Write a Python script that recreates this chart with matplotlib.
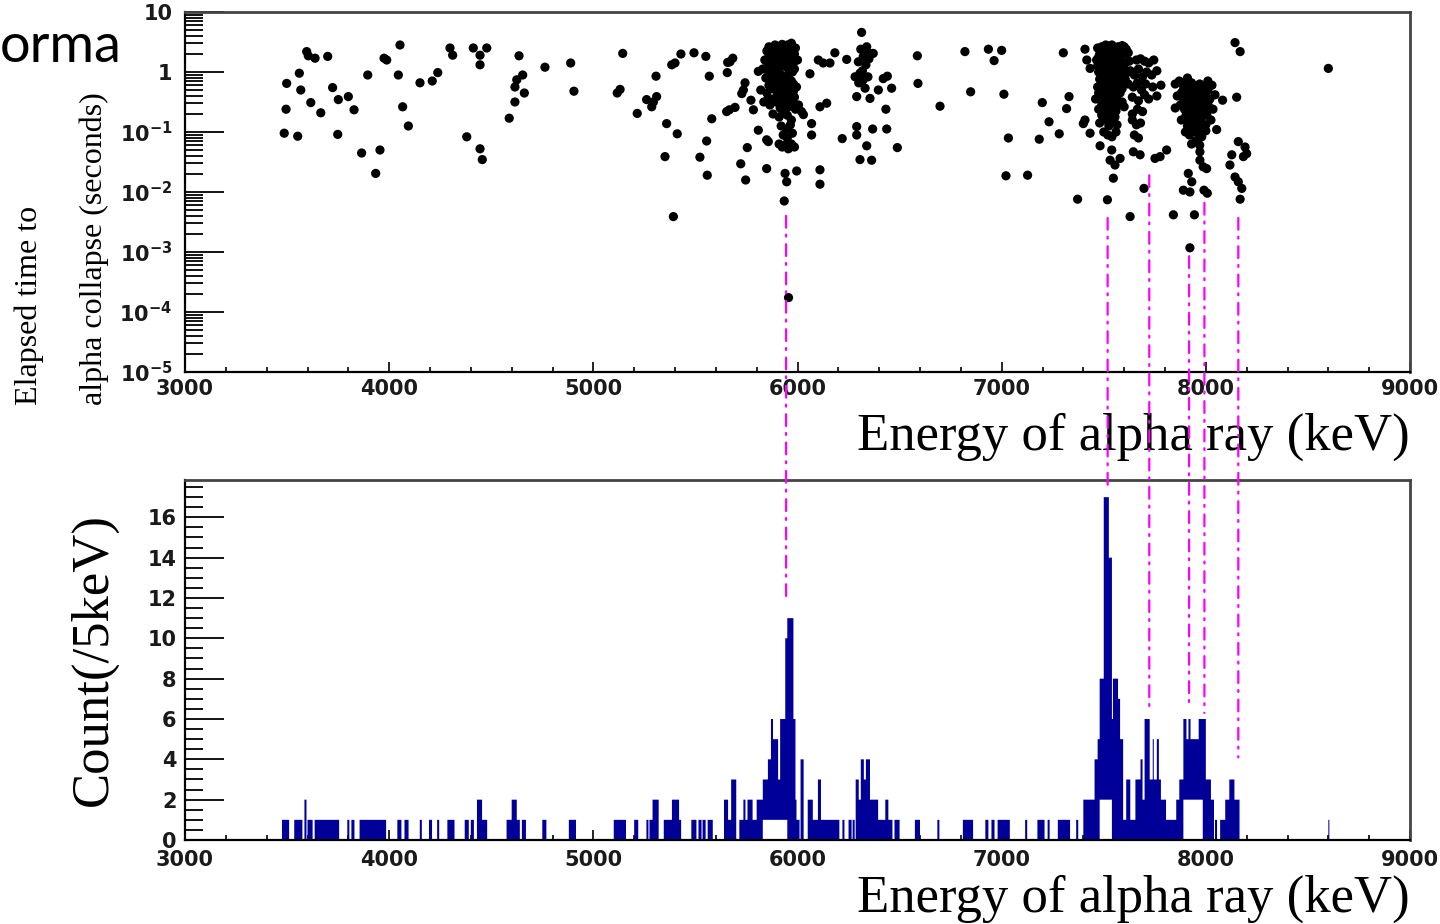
import numpy as np
import matplotlib
matplotlib.use('Agg')
import matplotlib.pyplot as plt
from matplotlib.patches import ConnectionPatch
from matplotlib.ticker import MultipleLocator, FixedLocator, LogLocator, NullFormatter

plt.rcParams['mathtext.fontset'] = 'dejavusans'
plt.rcParams['lines.scale_dashes'] = False

# ---------------- scatter data (energy keV, log10 of elapsed time s) ----------------
sparse_left_e = [3596, 3604, 3637, 3699, 3560, 3498, 3567, 3723, 3751, 3800, 3616, 3665, 3495, 3828,
                 3486, 3552, 3748, 3865, 3955, 3934, 3895, 4045, 3975, 3988, 4053, 4066, 4094, 4151,
                 4211, 4238, 4298, 4311, 4412, 4478, 4445, 4445, 4380, 4445, 4456, 4636, 4654, 4625,
                 4616, 4662, 4616, 4588, 4763, 4889, 4905, 5144, 5117, 5131, 5261, 5294, 5286, 5310,
                 5215, 5307]
sparse_left_t = [0.34, 0.27, 0.23, 0.26, -0.02, -0.19, -0.30, -0.26, -0.46, -0.41, -0.51, -0.68, -0.62, -0.63,
                 -1.02, -1.07, -1.04, -1.35, -1.30, -1.69, -0.05, -0.05, 0.23, 0.20, 0.45, -0.58, -0.90, -0.18,
                 -0.15, -0.01, 0.40, 0.28, 0.40, 0.40, 0.28, 0.12, -1.08, -1.28, -1.46, 0.27, -0.05, -0.13,
                 -0.25, -0.35, -0.50, -0.77, 0.08, 0.15, -0.32, 0.31, -0.35, -0.29, -0.46, -0.50, -0.58, -0.41,
                 -0.69, -0.07]

sparse_mid_e = [5359, 5411, 5351, 5392, 5384, 5400, 5429, 5493, 5551, 5568, 5580, 5555, 5522, 5558,
                5658, 5683, 5669, 5656, 5743, 5735, 5727, 5666, 5694, 5653, 5754, 5722, 5746, 5808,
                5849, 5857, 5849, 5772, 5784, 5808, 5939, 5947, 5935, 5996, 6110, 6110, 6069, 6069,
                6061, 6102, 6126, 6159, 6183, 6241, 6110, 6143, 6219, 6020, 6029, 5956, 6306]
sparse_mid_t = [-0.86, -1.03, -1.41, -2.41, 0.12, 0.15, 0.30, 0.32, 0.26, -0.07, -0.78, -1.15, -1.42, -1.72,
                0.16, 0.23, 0.17, -0.01, -0.18, -0.30, -0.36, -0.63, -0.59, -0.66, -1.26, -1.53, -1.80, -0.97,
                -1.13, -1.16, -1.61, -0.47, -0.63, 0.01, -1.69, -1.83, -2.15, -1.65, -1.63, -1.87, -0.86, -1.05,
                -0.03, 0.20, 0.15, 0.15, 0.32, 0.21, -0.58, -0.52, -1.11, -0.66, -0.71, -3.76, -1.46]

peak5950_e = [5850, 5870, 5890, 5910, 5930, 5950, 5970, 5990,
              5840, 5860, 5880, 5900, 5920, 5940, 5960, 5980, 6000,
              5830, 5855, 5875, 5895, 5915, 5935, 5955, 5975,
              5845, 5870, 5890, 5910, 5930, 5950, 5970, 5995,
              5820, 5850, 5880, 5900, 5920, 5940, 5960, 5985,
              5835, 5865, 5895, 5915, 5935, 5955, 5975, 6005,
              5880, 5910, 5930, 5950, 5970,
              5920, 5945, 5965,
              5930, 5950, 5975,
              5910, 5925, 5940, 5955, 5970, 5985,
              5860, 5880, 5900, 5925, 5945, 5965, 5985,
              5865, 5885, 5905, 5925, 5945, 5965, 5985,
              5860, 5880, 5900, 5920, 5940, 5960, 5980,
              5860, 5885, 5905, 5925, 5945, 5965, 5980,
              5855, 5880, 5905, 5925, 5945, 5965, 5990]
peak5950_t = [0.35, 0.40, 0.45, 0.42, 0.38, 0.45, 0.48, 0.40,
              0.20, 0.25, 0.30, 0.28, 0.22, 0.30, 0.25, 0.15, 0.20,
              0.05, 0.10, 0.05, 0.12, 0.08, 0.10, 0.05, 0.00,
              -0.10, -0.15, -0.05, -0.12, -0.20, -0.08, -0.15, -0.25,
              -0.30, -0.35, -0.28, -0.40, -0.32, -0.38, -0.30, -0.42,
              -0.50, -0.55, -0.50, -0.60, -0.52, -0.58, -0.48, -0.55,
              -0.70, -0.75, -0.68, -0.72, -0.80,
              -0.90, -0.95, -0.88,
              -1.05, -1.10, -1.02,
              -1.20, -1.25, -1.22, -1.28, -1.20, -1.25,
              0.42, 0.38, 0.35, 0.46, 0.40, 0.36, 0.30,
              0.15, 0.18, 0.20, 0.15, 0.18, 0.12, 0.05,
              -0.02, -0.10, -0.02, -0.05, -0.12, -0.02, -0.20,
              -0.22, -0.18, -0.25, -0.10, -0.22, -0.40, -0.32,
              -0.45, -0.45, -0.35, -0.45, -0.48, -0.52, -0.62]

peak6330_e = [6314, 6339, 6355, 6322, 6371, 6298, 6306, 6322, 6282, 6331, 6420, 6440, 6396, 6461,
              6290, 6355, 6433, 6290, 6290, 6368, 6437, 6339, 6363, 6489,
              6330, 6350, 6310, 6335, 6318, 6345, 6300]
peak6330_t = [0.66, 0.42, 0.31, 0.26, 0.31, 0.17, -0.02, -0.13, -0.08, -0.27, -0.11, -0.07, -0.30, -0.27,
              -0.41, -0.44, -0.62, -0.91, -1.05, -0.95, -0.95, -1.23, -1.47, -1.26,
              0.30, 0.22, 0.38, 0.12, 0.02, -0.08, -0.18]

sparse_right_e = [6587, 6590, 6698, 6820, 6848, 6935, 6963, 7000, 7011, 7021, 7033, 7127, 7184, 7199,
                  7232, 7282, 7302, 7318, 7330, 7372, 7408, 7417, 7433, 7408, 7400, 7433, 7482, 7518,
                  7539, 7531, 7555, 7580, 7547, 7629, 7645, 7678, 7697, 7751, 7776, 7808, 7841, 7944,
                  7890, 7922, 7931, 7914, 7991, 8007, 7971, 7987, 8004, 7971, 8053, 8082, 8143, 8168,
                  8151, 8159, 8192, 8200, 8184, 8127, 8118, 8143, 8159, 8176, 8168, 8600, 7922]
sparse_right_t = [0.27, -0.19, -0.57, 0.34, -0.33, 0.38, 0.19, 0.36, -0.37, -1.73, -1.10, -1.72, -1.12, -0.51,
                  -0.83, -1.03, 0.32, -0.61, -0.41, -2.12, 0.38, 0.20, 0.06, -0.80, -0.86, -1.02, -1.23, -2.13,
                  -1.30, -1.47, -1.55, -1.44, -1.77, -2.41, -1.33, -1.38, -1.94, -1.44, -1.41, -1.30, -2.38, -2.38,
                  -1.97, -2.00, -1.83, -1.69, -1.97, -2.02, -1.47, -1.58, -1.61, -1.33, -0.96, -0.47, 0.49, 0.34,
                  -0.42, -1.16, -1.25, -1.36, -1.41, -1.38, -1.55, -1.75, -1.83, -1.94, -2.12, 0.06, -2.93]

peak7550_e = [7470, 7490, 7510, 7530, 7550, 7570, 7590, 7610, 7480, 7500, 7520, 7545, 7565, 7585, 7605,
              7465, 7485, 7505, 7525, 7545, 7565, 7585, 7600, 7625, 7660, 7680, 7700, 7720, 7745,
              7475, 7495, 7515, 7535, 7555, 7575, 7600, 7630, 7650, 7670, 7690, 7710, 7735, 7760,
              7470, 7490, 7510, 7530, 7550, 7570, 7590, 7620, 7645, 7665, 7685, 7705, 7740, 7780,
              7460, 7485, 7505, 7525, 7545, 7565, 7590, 7640, 7670, 7700, 7720, 7760,
              7475, 7500, 7520, 7540, 7560, 7600, 7640, 7665, 7690,
              7480, 7505, 7525, 7545, 7565, 7640, 7660, 7680,
              7500, 7520, 7540, 7560, 7650, 7670,
              7480, 7500, 7520, 7540, 7560, 7580, 7600, 7620,
              7475, 7495, 7515, 7535, 7555, 7575, 7595,
              7470, 7490, 7510, 7530, 7550, 7570, 7590, 7610,
              7480, 7500, 7520, 7540, 7560, 7580, 7605,
              7475, 7495, 7515, 7535, 7555, 7580,
              7490, 7510, 7530, 7550, 7570,
              7490, 7515, 7535, 7555]
peak7550_t = [0.40, 0.42, 0.45, 0.43, 0.40, 0.42, 0.44, 0.38, 0.30, 0.34, 0.30, 0.33, 0.28, 0.32, 0.30,
              0.20, 0.15, 0.22, 0.12, 0.18, 0.10, 0.20, 0.12, 0.18, 0.20, 0.22, 0.18, 0.15, 0.20,
              0.00, -0.05, 0.02, -0.08, -0.02, -0.10, -0.05, 0.02, -0.05, 0.05, -0.08, 0.00, -0.05, 0.02,
              -0.25, -0.20, -0.28, -0.18, -0.30, -0.22, -0.28, -0.20, -0.25, -0.18, -0.30, -0.20, -0.25, -0.22,
              -0.45, -0.40, -0.48, -0.38, -0.45, -0.40, -0.50, -0.42, -0.48, -0.38, -0.45, -0.40,
              -0.62, -0.58, -0.68, -0.60, -0.65, -0.58, -0.70, -0.62, -0.66,
              -0.85, -0.80, -0.90, -0.82, -0.88, -0.80, -0.88, -0.85,
              -1.00, -1.05, -1.08, -1.00, -1.05, -1.10,
              0.38, 0.40, 0.38, 0.45, 0.35, 0.38, 0.42, 0.32,
              0.25, 0.25, 0.26, 0.22, 0.25, 0.22, 0.15,
              0.10, 0.08, 0.12, 0.05, 0.08, 0.02, 0.05, -0.02,
              -0.12, -0.15, -0.10, -0.15, -0.12, -0.18, -0.12,
              -0.35, -0.32, -0.38, -0.30, -0.35, -0.35,
              -0.55, -0.52, -0.55, -0.52, -0.55,
              -0.72, -0.75, -0.72, -0.75]

peak7950_e = [7850, 7870, 7890, 7910, 7930, 7950, 7970, 7990, 8010, 8030,
              7860, 7880, 7900, 7920, 7940, 7960, 7980, 8000, 8020, 8045,
              7850, 7875, 7895, 7915, 7935, 7955, 7975, 7995, 8015, 8035,
              7880, 7900, 7920, 7940, 7960, 7980, 8000, 8025,
              7900, 7920, 7940, 7960, 7980, 8000,
              7930, 7950, 7970,
              7890, 7910, 7930, 7950, 7970, 7990, 8010,
              7890, 7910, 7930, 7950, 7970, 7990, 8010,
              7905, 7925, 7945, 7965, 7985, 8005,
              7910, 7930, 7950, 7970, 7990]
peak7950_t = [-0.20, -0.15, -0.22, -0.10, -0.18, -0.28, -0.20, -0.25, -0.15, -0.22,
              -0.40, -0.35, -0.45, -0.38, -0.42, -0.35, -0.48, -0.40, -0.45, -0.38,
              -0.60, -0.55, -0.62, -0.58, -0.65, -0.55, -0.60, -0.68, -0.58, -0.62,
              -0.80, -0.75, -0.85, -0.78, -0.82, -0.75, -0.88, -0.80,
              -1.00, -1.05, -0.95, -1.02, -1.08, -0.98,
              -1.20, -1.15, -1.22,
              -0.30, -0.28, -0.32, -0.45, -0.32, -0.35, -0.30,
              -0.50, -0.50, -0.52, -0.62, -0.48, -0.52, -0.50,
              -0.68, -0.70, -0.72, -0.70, -0.68, -0.72,
              -0.90, -0.92, -0.88, -0.92, -0.88]

# ---------------- histogram data (segments: low keV, high keV, count) ----------------
seg_lo = [3475, 3535, 3585, 3600, 3635, 3795, 3815, 3855, 4040, 4075, 4150, 4195, 4235, 4285, 4370, 4400,
          4430, 4455, 4575, 4600, 4625, 4650, 4750, 4880, 5100, 5200, 5260, 5275, 5290, 5345, 5385, 5420,
          5480, 5515, 5535, 5560, 5640, 5660, 5675, 5715, 5735, 5745, 5755, 5780, 5800, 5830, 5855, 5870,
          5880, 5905, 5915, 5940, 5950, 5980, 5990, 5995, 6015, 6050, 6075, 6100, 6115, 6140, 6220, 6250,
          6270, 6285, 6300, 6310, 6325, 6335, 6355, 6395, 6430, 6445, 6475, 6575, 6685, 6810, 6920, 6950,
          6980, 7115, 7175, 7225, 7275, 7365, 7400, 7455, 7470, 7480, 7500, 7525, 7540, 7545, 7570, 7580,
          7595, 7610, 7630, 7655, 7680, 7690, 7700, 7725, 7740, 7745, 7760, 7770, 7780, 7805, 7855, 7870,
          7890, 7905, 7915, 7925, 7965, 8000, 8025, 8045, 8070, 8095, 8115, 8140, 8600]
seg_hi = [3510, 3575, 3595, 3625, 3755, 3805, 3830, 3985, 4060, 4095, 4160, 4210, 4245, 4320, 4390, 4415,
          4455, 4480, 4600, 4625, 4640, 4670, 4770, 4915, 5160, 5220, 5270, 5290, 5320, 5385, 5420, 5430,
          5505, 5530, 5550, 5585, 5660, 5675, 5700, 5735, 5745, 5755, 5780, 5800, 5830, 5855, 5870, 5880,
          5905, 5915, 5940, 5950, 5980, 5990, 5995, 6010, 6030, 6075, 6100, 6115, 6140, 6205, 6230, 6265,
          6280, 6300, 6310, 6325, 6335, 6355, 6395, 6430, 6445, 6465, 6500, 6600, 6695, 6860, 6935, 6965,
          7040, 7125, 7210, 7235, 7335, 7375, 7455, 7470, 7480, 7500, 7525, 7540, 7545, 7570, 7580, 7595,
          7610, 7630, 7655, 7680, 7690, 7700, 7725, 7740, 7745, 7760, 7770, 7780, 7805, 7855, 7870, 7890,
          7905, 7915, 7925, 7965, 8000, 8025, 8040, 8055, 8095, 8115, 8140, 8165, 8605]
seg_count = [1, 1, 2, 1, 1, 1, 1, 1, 1, 1, 1, 1, 1, 1, 1, 1,
             2, 1, 1, 2, 1, 1, 1, 1, 1, 1, 1, 1, 2, 1, 2, 1,
             1, 1, 1, 1, 2, 1, 3, 1, 2, 1, 2, 1, 2, 3, 4, 6,
             5, 3, 6, 10, 11, 6, 2, 1, 4, 2, 1, 3, 1, 1, 1, 1,
             1, 3, 2, 4, 3, 4, 2, 1, 2, 1, 1, 1, 1, 1, 1, 1,
             1, 1, 1, 1, 1, 1, 2, 4, 5, 8, 17, 14, 6, 8, 7, 5,
             1, 3, 1, 3, 4, 2, 6, 3, 5, 3, 5, 3, 2, 1, 2, 3,
             6, 5, 6, 5, 6, 3, 2, 1, 1, 2, 3, 2, 1]
# white gaps at the foot of the peaks (low keV, high keV, level)
hole_lo = [5830, 7480, 7890]
hole_hi = [5950, 7540, 7985]
hole_level = [1, 2, 2]

# ---------------- guide lines (energy, top time, bottom count) ----------------
guide_energy = [5944, 7519, 7723, 7918, 7993, 8159]
guide_top_time = [0.0040, 0.0037, 0.019, 0.00085, 0.0066, 0.0037]
guide_bottom_count = [11.9, 17.3, 6.3, 6.6, 6.3, 4.1]

x_ticks = [3000, 4000, 5000, 6000, 7000, 8000, 9000]
y_log_ticks = [1e-5, 1e-4, 1e-3, 1e-2, 1e-1, 1, 10]
y_log_labels = [r'$\mathbf{10^{-5}}$', r'$\mathbf{10^{-4}}$', r'$\mathbf{10^{-3}}$', r'$\mathbf{10^{-2}}$',
                r'$\mathbf{10^{-1}}$', '1', '10']
y_count_ticks = [0, 2, 4, 6, 8, 10, 12, 14, 16]

W, H = 1440, 924
fig = plt.figure(figsize=(W / 100, H / 100), dpi=100)
ax1 = fig.add_axes([185 / W, 1 - 372 / H, 1225 / W, 360 / H])
ax2 = fig.add_axes([185 / W, 1 - 840 / H, 1225 / W, 360 / H])

# --- scatter ---
all_e = np.concatenate([sparse_left_e, sparse_mid_e, peak5950_e, peak6330_e,
                        sparse_right_e, peak7550_e, peak7950_e]).astype(float)
all_lt = np.concatenate([sparse_left_t, sparse_mid_t, peak5950_t, peak6330_t,
                         sparse_right_t, peak7550_t, peak7950_t]).astype(float)
ax1.scatter(all_e, 10 ** all_lt, s=44, c='black', edgecolors='none', zorder=3)
ax1.set_yscale('log')
ax1.set_xlim(3000, 9000)
ax1.set_ylim(1e-5, 10)

# --- histogram ---
edges = np.arange(3000, 9000 + 5, 5)
vals = np.zeros(len(edges) - 1)
base = np.zeros(len(edges) - 1)
for lo, hi, c in zip(seg_lo, seg_hi, seg_count):
    m = (edges[:-1] >= lo) & (edges[:-1] < hi)
    vals[m] = c
for lo, hi, lv in zip(hole_lo, hole_hi, hole_level):
    m = (edges[:-1] >= lo) & (edges[:-1] < hi)
    base[m] = lv
ax2.stairs(vals, edges, baseline=base, fill=True, color='#000099', zorder=2)
ax2.set_xlim(3000, 9000)
ax2.set_ylim(0, 17.85)

tick_col = '#1a1a1a'
tick_font = dict(family='DejaVu Sans', weight='bold', size=15)
for ax in (ax1, ax2):
    ax.set_xticks(x_ticks)
    ax.set_xticklabels([str(v) for v in x_ticks], fontdict=tick_font)
    ax.xaxis.set_minor_locator(MultipleLocator(200))
    ax.tick_params(axis='x', which='major', direction='in', length=7, width=1.2,
                   labelcolor=tick_col, top=False)
    ax.tick_params(axis='x', which='minor', direction='in', length=3.6, width=1.2, top=False)
    for side in ('left', 'bottom'):
        ax.spines[side].set_linewidth(1.6)
        ax.spines[side].set_color('black')
    for side in ('top', 'right'):
        ax.spines[side].set_linewidth(2.0)
        ax.spines[side].set_color('#444444')

ax1.tick_params(axis='x', which='major', pad=5)
ax2.tick_params(axis='x', which='major', pad=7)

ax1.yaxis.set_major_locator(FixedLocator(y_log_ticks))
ax1.set_yticklabels(y_log_labels, fontdict=tick_font)
ax1.yaxis.set_minor_locator(LogLocator(base=10, subs=np.arange(2, 10)))
ax1.yaxis.set_minor_formatter(NullFormatter())
ax1.tick_params(axis='y', which='major', direction='in', length=28, width=1.3,
                labelcolor=tick_col, pad=9, right=False)
ax1.tick_params(axis='y', which='minor', direction='in', length=13, width=1.3, right=False)

ax2.set_yticks(y_count_ticks)
ax2.set_yticklabels([str(v) for v in y_count_ticks], fontdict=tick_font)
ax2.yaxis.set_minor_locator(MultipleLocator(0.5))
ax2.tick_params(axis='y', which='major', direction='in', length=28, width=1.3,
                labelcolor=tick_col, pad=6, right=False)
ax2.tick_params(axis='y', which='minor', direction='in', length=13, width=1.3, right=False)

# --- titles ---
serif = ['Liberation Serif', 'DejaVu Serif']
fig.text(1410 / W, 1 - 450 / H, 'Energy of alpha ray (keV)', fontsize=38, family=serif,
         ha='right', va='baseline')
fig.text(1410 / W, 1 - 912 / H, 'Energy of alpha ray (keV)', fontsize=38, family=serif,
         ha='right', va='baseline')
fig.text(37 / W, 1 - 405 / H, 'Elapsed time to', fontsize=23, family=serif,
         rotation=90, rotation_mode='anchor', ha='left', va='baseline')
fig.text(102 / W, 1 - 405 / H, 'alpha collapse (seconds)', fontsize=23, family=serif,
         rotation=90, rotation_mode='anchor', ha='left', va='baseline')
fig.text(107 / W, 1 - 660 / H, 'Count(/5keV)', fontsize=38, family=serif,
         rotation=90, rotation_mode='anchor', ha='center', va='baseline')
fig.text(0 / W, 1 - 62 / H, 'orma', fontsize=39, family=['Lato', 'DejaVu Sans'],
         ha='left', va='baseline')

# --- magenta guide lines across both panels ---
for e, t0, c0 in zip(guide_energy, guide_top_time, guide_bottom_count):
    con = ConnectionPatch(xyA=(e, t0), coordsA=ax1.transData,
                          xyB=(e, c0), coordsB=ax2.transData,
                          color='#ff00ff', linewidth=1.6, linestyle=(0, (8.5, 5, 1.4, 5.5)),
                          zorder=5)
    fig.add_artist(con)

fig.savefig('out.png', dpi=100)
